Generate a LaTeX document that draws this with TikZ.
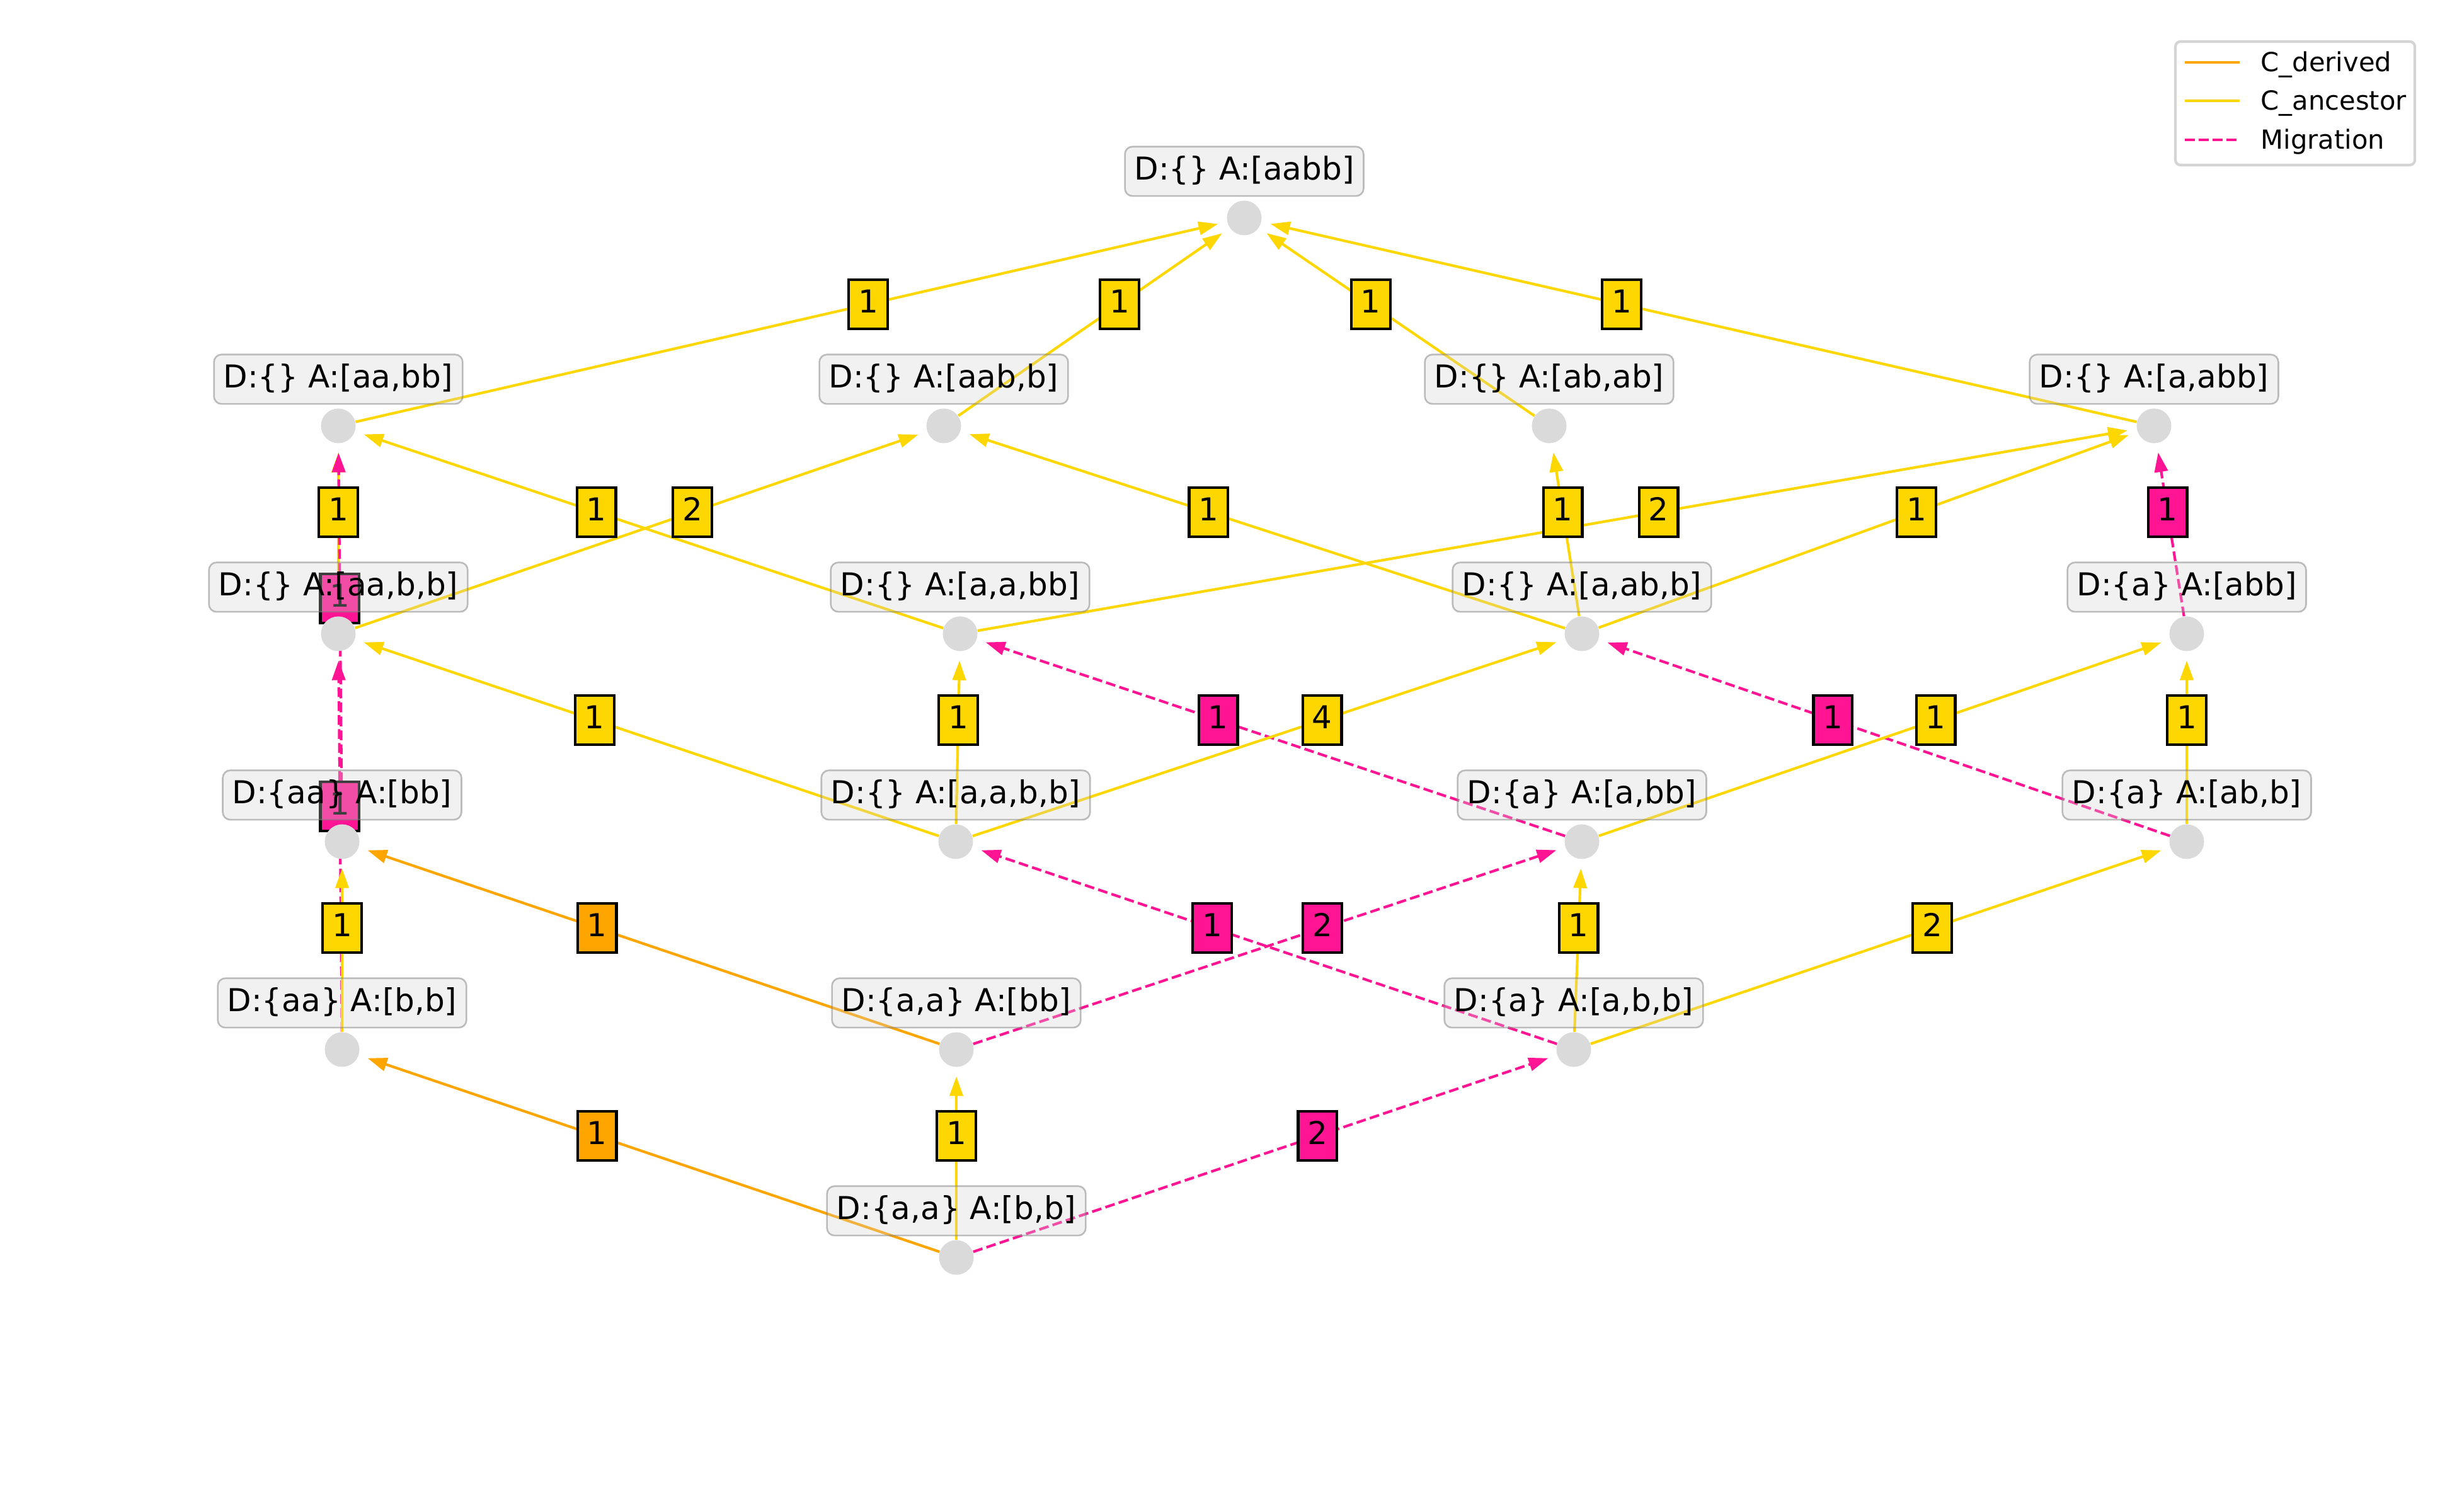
\documentclass[tikz,border=0pt]{standalone}
\usepackage{fontspec}
\setmainfont{DejaVu Sans}
\usetikzlibrary{arrows.meta,calc}

\definecolor{derived}{HTML}{FFA500}
\definecolor{ancestor}{HTML}{FFD700}
\definecolor{migration}{HTML}{FF1493}
\definecolor{dotgray}{HTML}{DADADA}
\definecolor{boxfill}{HTML}{D3D3D3}
\definecolor{boxline}{HTML}{808080}
\definecolor{legline}{HTML}{D4D4D4}

\newcommand\statefont{\fontsize{14.23pt}{17pt}\selectfont}
\newcommand\keyfont{\fontsize{11.86pt}{14pt}\selectfont}

\pgfdeclarelayer{edgelayer}
\pgfdeclarelayer{weightlayer}
\pgfsetlayers{edgelayer,weightlayer,main}

\tikzset{
  dot/.style={circle, fill=dotgray, inner sep=0pt, minimum size=0.55cm},
  state/.style={rounded corners=0.12cm, fill=boxfill, fill opacity=0.3,
    text opacity=1, draw=boxline, draw opacity=0.5, line width=0.75pt,
    font=\statefont, inner xsep=0.15cm, inner ysep=0.15cm,
    text height=0.38cm, text depth=0.104cm},
  weight/.style={rectangle, draw=black, line width=1.19pt, font=\statefont,
    inner xsep=0.15cm, inner ysep=0.15cm, text height=0.38cm, text depth=0.104cm},
  flow/.style={line width=1.19pt, -{Triangle[length=0.31cm,width=0.21cm]},
    shorten >=0.145cm},
  derivedflow/.style={flow, draw=derived},
  ancestorflow/.style={flow, draw=ancestor},
  migrationflow/.style={flow, draw=migration, dash pattern=on 4.4pt off 1.9pt},
  keyline/.style={line width=1.19pt},
  keytext/.style={font=\keyfont, anchor=base west, inner sep=0pt},
}

% weighted connector: style, from, to, weight, box colour
\newcommand\weighted[5]{%
  \begin{pgfonlayer}{edgelayer}
    \draw[#1] (#2) -- (#3);
  \end{pgfonlayer}
  \begin{pgfonlayer}{weightlayer}
    \node[weight, fill=#5] (w-#2-#3) at ($(#2)!0.585!(#3)$) {#4};
  \end{pgfonlayer}}

% state: name, position, text
\newcommand\state[3]{%
  \node[dot] (#1) at (#2) {};
  \node[state] (#1-l) at ($(#1)+(0,0.74)$) {#3};}

\begin{document}
\begin{tikzpicture}
\useasboundingbox (0,0) rectangle (39,24);
\begin{pgfonlayer}{edgelayer}
  \fill[white] (0,0) rectangle (39,24);
\end{pgfonlayer}

% states, one row per level
\state{R}{19.75,20.54}{D:\{\} A:[aabb]}

\state{A1}{5.37,17.24}{D:\{\} A:[aa,bb]}
\state{A2}{14.98,17.24}{D:\{\} A:[aab,b]}
\state{A3}{24.59,17.24}{D:\{\} A:[ab,ab]}
\state{A4}{34.19,17.24}{D:\{\} A:[a,abb]}

\state{B1}{5.37,13.94}{D:\{\} A:[aa,b,b]}
\state{B2}{15.24,13.94}{D:\{\} A:[a,a,bb]}
\state{B3}{25.11,13.94}{D:\{\} A:[a,ab,b]}
\state{B4}{34.71,13.94}{D:\{a\} A:[abb]}

\state{C1}{5.43,10.64}{D:\{aa\} A:[bb]}
\state{C2}{15.17,10.64}{D:\{\} A:[a,a,b,b]}
\state{C3}{25.11,10.64}{D:\{a\} A:[a,bb]}
\state{C4}{34.71,10.64}{D:\{a\} A:[ab,b]}

\state{E1}{5.43,7.34}{D:\{aa\} A:[b,b]}
\state{E2}{15.18,7.34}{D:\{a,a\} A:[bb]}
\state{E3}{24.98,7.34}{D:\{a\} A:[a,b,b]}

\state{F}{15.18,4.04}{D:\{a,a\} A:[b,b]}

% level 1 -> root
\weighted{ancestorflow}{A1}{R}{1}{ancestor}
\weighted{ancestorflow}{A2}{R}{1}{ancestor}
\weighted{ancestorflow}{A3}{R}{1}{ancestor}
\weighted{ancestorflow}{A4}{R}{1}{ancestor}

% level 2 -> level 1
\weighted{ancestorflow}{B1}{A1}{1}{ancestor}
\weighted{migrationflow}{C1}{A1}{1}{migration}
\weighted{ancestorflow}{B2}{A1}{1}{ancestor}
\weighted{ancestorflow}{B1}{A2}{2}{ancestor}
\weighted{ancestorflow}{B3}{A2}{1}{ancestor}
\weighted{ancestorflow}{B3}{A3}{1}{ancestor}
\weighted{ancestorflow}{B2}{A4}{2}{ancestor}
\weighted{ancestorflow}{B3}{A4}{1}{ancestor}
\weighted{migrationflow}{B4}{A4}{1}{migration}

% level 3 -> level 2
\weighted{ancestorflow}{C2}{B1}{1}{ancestor}
\weighted{migrationflow}{E1}{B1}{1}{migration}
\weighted{ancestorflow}{C2}{B2}{1}{ancestor}
\weighted{migrationflow}{C3}{B2}{1}{migration}
\weighted{ancestorflow}{C2}{B3}{4}{ancestor}
\weighted{migrationflow}{C4}{B3}{1}{migration}
\weighted{ancestorflow}{C3}{B4}{1}{ancestor}
\weighted{ancestorflow}{C4}{B4}{1}{ancestor}

% level 4 -> level 3
\weighted{ancestorflow}{E1}{C1}{1}{ancestor}
\weighted{derivedflow}{E2}{C1}{1}{derived}
\weighted{migrationflow}{E3}{C2}{1}{migration}
\weighted{migrationflow}{E2}{C3}{2}{migration}
\weighted{ancestorflow}{E3}{C3}{1}{ancestor}
\weighted{ancestorflow}{E3}{C4}{2}{ancestor}

% level 5 -> level 4
\weighted{derivedflow}{F}{E1}{1}{derived}
\weighted{ancestorflow}{F}{E2}{1}{ancestor}
\weighted{migrationflow}{F}{E3}{2}{migration}

% key
\node[draw=legline, fill=white, line width=1.19pt, rounded corners=0.08cm,
  minimum width=3.80cm, minimum height=1.96cm, inner sep=0pt] (key) at (36.43,22.36) {};
\coordinate (k1a) at (34.68,23.01); \coordinate (k1b) at (35.55,23.01);
\coordinate (k2a) at (34.68,22.40); \coordinate (k2b) at (35.55,22.40);
\coordinate (k3a) at (34.68,21.78); \coordinate (k3b) at (35.55,21.78);
\draw[keyline, draw=derived] (k1a) -- (k1b);
\draw[keyline, draw=ancestor] (k2a) -- (k2b);
\draw[keyline, draw=migration, dash pattern=on 4.4pt off 1.9pt] (k3a) -- (k3b);
\node[keytext] (k1t) at (35.88,22.86) {C\_derived};
\node[keytext] (k2t) at (35.88,22.25) {C\_ancestor};
\node[keytext] (k3t) at (35.88,21.63) {Migration};
\end{tikzpicture}
\end{document}
